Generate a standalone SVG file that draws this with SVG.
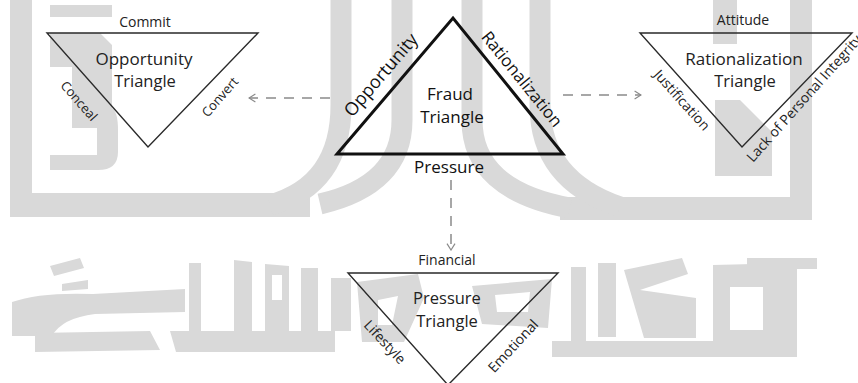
<svg xmlns="http://www.w3.org/2000/svg" width="858" height="383" viewBox="0 0 858 383">
<defs>
<style>
.wm{fill:#d9d9d9}
.wms{fill:none;stroke:#d9d9d9;stroke-width:21}
.tri{fill:none;stroke:#2a2a2a;stroke-width:1.4}
.big{fill:none;stroke:#111;stroke-width:3}
text{font-family:"Open Sans","Noto Sans",sans-serif;fill:#222}
.s13{font-size:13px}
.s14{font-size:14px}
.s16{font-size:16.5px}
.s17{font-size:17px}
.dash{fill:none;stroke:#8a8a8a;stroke-width:1.5;stroke-dasharray:10 8}
</style>
<marker id="chev" viewBox="0 0 10 12" refX="9" refY="6" markerWidth="8" markerHeight="10" markerUnits="userSpaceOnUse" orient="auto"><path d="M1,1 L9,6 L1,11" fill="none" stroke="#8a8a8a" stroke-width="1.5"/></marker>
</defs>
<rect width="858" height="383" fill="#fff"/>
<g id="watermark">
<rect class="wm" x="10" y="0" width="22" height="217"/>
<rect class="wm" x="10" y="193" width="300" height="24"/>
<rect class="wm" x="560" y="197" width="252" height="23"/>
<rect class="wm" x="790" y="0" width="22" height="220"/>
<rect class="wm" x="713" y="0" width="24" height="44"/>
<path class="wm" d="M715,100 L740,100 L772,132 L772,176 L715,176 Z"/>
<path class="wms" d="M341,0 V105 Q341,185 270,205"/>
<path class="wms" d="M402,0 V120 Q402,185 320,204"/>
<path class="wms" d="M472,0 V120 Q472,190 570,208"/>
<path class="wms" d="M540,0 V105 Q540,180 620,207"/>
<rect class="wm" x="50" y="5" width="62" height="12"/>
<path class="wm" d="M50,33 H100 L112,45 V108 Q118,112 118,130 V152 Q118,170 98,170 H50 V155 H97 V128 H72 V67 H50 Z"/>
<path class="wm" d="M50,266 L80,258 L84,268 L54,276 Z M62,284 L88,280 L88,289 L62,291 Z"/>
<path class="wm" d="M12,302 Q40,292 93,294 L185,289 L185,312 L95,314 Q62,318 52,336 L12,336 Z"/>
<path class="wm" d="M35,333 L150,331 L160,350 L35,352 Z M170,331 L335,331 L335,352 L176,352 Z"/>
<path class="wm" d="M189,263 L201,263 L201,331 L189,331 Z"/>
<path class="wm" d="M234,260 L252,262 L252,331 L234,331 Z"/>
<path class="wm" d="M265,264 L289,266 L289,331 L265,331 Z M272,275 L282,275 L282,300 L272,300 Z" fill-rule="evenodd"/>
<rect class="wm" x="301" y="268" width="17" height="63"/>
<rect class="wm" x="331" y="278" width="20" height="53"/>
<path class="wm" d="M357,282 L418,274 L424,298 L404,342 L362,342 Z M378,300 L398,296 L392,325 L378,325 Z" fill-rule="evenodd"/>
<path class="wm" d="M472,286 L552,279 L548,328 L482,324 Z M495,295 L530,292 L528,312 L497,312 Z" fill-rule="evenodd"/>
<rect class="wm" x="571" y="267" width="15" height="88"/>
<rect class="wm" x="598" y="263" width="18" height="74"/>
<path class="wm" d="M624,270 L682,258 L688,274 L640,290 L696,298 L696,338 L644,338 Z"/>
<path class="wm" fill-rule="evenodd" d="M713,265 L797,263 L797,352 L713,352 Z M730,287 L763,287 L763,330 L730,330 Z"/>
<rect class="wm" x="747" y="258" width="70" height="11"/>
<rect class="wm" x="552" y="341" width="245" height="16"/>
</g>
<g id="connectors">
<line class="dash" x1="330" y1="98" x2="249" y2="98" marker-end="url(#chev)"/>
<line class="dash" x1="563" y1="95" x2="641" y2="95" marker-end="url(#chev)"/>
<line class="dash" x1="451" y1="180" x2="451" y2="250" marker-end="url(#chev)"/>
</g>
<g id="opportunity-triangle">
<polygon class="tri" points="47,33 258,33 148,147"/>
<text class="s14" x="145" y="27" text-anchor="middle">Commit</text>
<text class="s17" x="144" y="65" text-anchor="middle">Opportunity</text>
<text class="s16" x="145" y="87" text-anchor="middle">Triangle</text>
<text class="s13" transform="translate(79,101) rotate(48.7)" y="4.5" text-anchor="middle">Conceal</text>
<text class="s13" transform="translate(220,97) rotate(-48.7)" y="4.5" text-anchor="middle">Convert</text>
</g>
<g id="fraud-triangle">
<polygon class="big" points="337,154 453,18 563,154"/>
<text class="s17" x="450" y="100" text-anchor="middle" style="fill:#111">Fraud</text>
<text class="s17" x="452" y="123" text-anchor="middle" style="fill:#111">Triangle</text>
<text class="s17" x="449" y="173" text-anchor="middle" style="fill:#111">Pressure</text>
<text class="s17" transform="translate(381,75) rotate(-49.5)" y="6" text-anchor="middle" style="fill:#111;font-size:18px">Opportunity</text>
<text class="s17" transform="translate(522,79) rotate(51)" y="6" text-anchor="middle" style="fill:#111">Rationalization</text>
</g>
<g id="rationalization-triangle">
<polygon class="tri" points="640,33 852,33 742,147"/>
<text class="s14" x="743" y="25" text-anchor="middle">Attitude</text>
<text class="s17" x="744" y="65" text-anchor="middle">Rationalization</text>
<text class="s16" x="745" y="87" text-anchor="middle">Triangle</text>
<text class="s14" transform="translate(682,100) rotate(48)" y="5" text-anchor="middle">Justification</text>
<text class="s14" transform="translate(753,163) rotate(-48.3)">Lack of Personal Integrity</text>
</g>
<g id="pressure-triangle">
<polygon class="tri" points="348,273 558,273 448,385"/>
<text class="s14" x="447" y="265" text-anchor="middle">Financial</text>
<text class="s16" x="447" y="304" text-anchor="middle">Pressure</text>
<text class="s16" x="447" y="327" text-anchor="middle">Triangle</text>
<text class="s14" transform="translate(385,342) rotate(47)" y="5" text-anchor="middle">Lifestyle</text>
<text class="s14" transform="translate(513,346) rotate(-47)" y="5" text-anchor="middle">Emotional</text>
</g>
</svg>
